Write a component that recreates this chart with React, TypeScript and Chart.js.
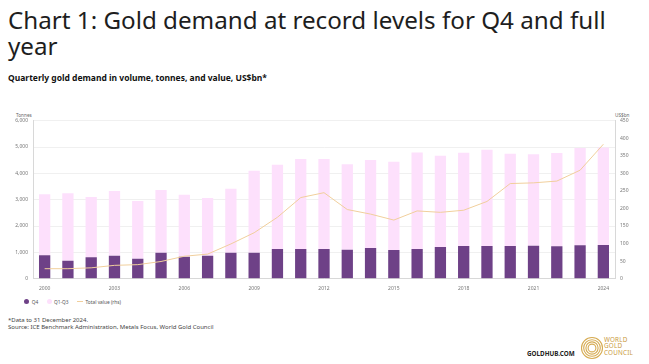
import React, { useEffect, useRef } from "react";
import { Chart, registerables } from "chart.js";

Chart.register(...registerables);

const years = [
  2000, 2001, 2002, 2003, 2004, 2005, 2006, 2007, 2008, 2009, 2010, 2011, 2012,
  2013, 2014, 2015, 2016, 2017, 2018, 2019, 2020, 2021, 2022, 2023, 2024,
];

// Q4 demand, tonnes
const q4Tonnes = [
  886, 684, 810, 873, 759, 987, 835, 873, 987, 987, 1127, 1127, 1127, 1101,
  1165, 1089, 1127, 1203, 1241, 1241, 1241, 1253, 1228, 1266, 1278,
];

// Q1-Q3 demand, tonnes
const q1q3Tonnes = [
  2317, 2557, 2291, 2456, 2190, 2380, 2355, 2190, 2431, 3114, 3202, 3417, 3417,
  3241, 3341, 3354, 3670, 3468, 3544, 3658, 3506, 3469, 3544, 3696, 3709,
];

// Total value, US$bn (rhs)
const totalValueBn = [
  28.5, 28.5, 31, 38, 40, 49, 64, 70, 99, 131, 175, 231, 245, 197, 184, 167,
  193, 189, 195, 220, 271, 273, 278, 309, 383,
];

const PURPLE = "#6e4187";
const PINK = "#fde0fc";
const GOLD_LINE = "#f1cf9c";
const GOLD = "#c99a3c";

export default function App() {
  const ref = useRef<HTMLCanvasElement>(null);

  useEffect(() => {
    Chart.defaults.font.family = '"Noto Sans", sans-serif';
    const chart = new Chart(ref.current!, {
      type: "bar",
      data: {
        labels: years.map(String),
        datasets: [
          {
            type: "line",
            label: "Total value (rhs)",
            data: totalValueBn,
            yAxisID: "y1",
            borderColor: GOLD_LINE,
            borderWidth: 1,
            pointRadius: 0,
            tension: 0,
            order: 0,
          } as any,
          {
            label: "Q4",
            data: q4Tonnes,
            backgroundColor: PURPLE,
            yAxisID: "y",
            stack: "t",
            order: 1,
            barPercentage: 0.485,
            categoryPercentage: 1,
          },
          {
            label: "Q1-Q3",
            data: q1q3Tonnes,
            backgroundColor: PINK,
            yAxisID: "y",
            stack: "t",
            order: 1,
            barPercentage: 0.485,
            categoryPercentage: 1,
          },
        ],
      },
      options: {
        responsive: false,
        animation: false,
        devicePixelRatio: 1,
        layout: { padding: { top: 20.7, left: 0, right: 0, bottom: 0 } },
        plugins: { legend: { display: false }, tooltip: { enabled: false } },
        scales: {
          x: {
            stacked: true,
            grid: { display: false, drawTicks: false },
            border: { display: true, color: "#d8d8d8" },
            ticks: {
              autoSkip: false,
              maxRotation: 0,
              padding: 6.5,
              color: "#777",
              font: { size: 5 },
              callback: (_v: any, i: number) => (i % 3 === 0 ? String(years[i]) : ""),
            },
            afterFit: (s: any) => {
              s.height = 16.3;
            },
          },
          y: {
            stacked: true,
            position: "left",
            min: 0,
            max: 6000,
            grid: { color: "#ececec", lineWidth: 0.8, drawTicks: false },
            border: { display: true, color: "#d8d8d8" },
            ticks: {
              stepSize: 1000,
              padding: 5,
              color: "#777",
              font: { size: 5 },
              callback: (v: any) => Number(v).toLocaleString("en-US"),
            },
            afterFit: (s: any) => {
              s.width = 33;
            },
          },
          y1: {
            position: "right",
            min: 0,
            max: 450,
            grid: { drawOnChartArea: false, drawTicks: false },
            border: { display: true, color: "#d8d8d8" },
            ticks: {
              stepSize: 50,
              padding: 5,
              color: "#777",
              font: { size: 5 },
            },
            afterFit: (s: any) => {
              s.width = 34;
            },
          },
        },
      },
    });
    return () => chart.destroy();
  }, []);

  const legendItem = (marker: React.ReactNode, text: string, left: number) => (
    <div
      style={{
        position: "absolute",
        left,
        top: 298.7,
        height: 6,
        display: "flex",
        alignItems: "center",
        fontSize: 4.8,
        color: "#555",
        whiteSpace: "nowrap",
      }}
    >
      {marker}
      <span style={{ marginLeft: 2.5 }}>{text}</span>
    </div>
  );

  const dot = (c: string) => (
    <span
      style={{
        display: "inline-block",
        width: 5,
        height: 5,
        borderRadius: "50%",
        background: c,
      }}
    />
  );

  return (
    <div
      style={{
        position: "absolute",
        left: 0,
        top: 0,
        width: 649,
        height: 364,
        background: "#fff",
        overflow: "hidden",
        fontFamily: '"Noto Sans", sans-serif',
        color: "#222",
      }}
    >
      <div
        style={{
          position: "absolute",
          left: 8,
          top: 7,
          fontSize: 24.2,
          lineHeight: "26px",
          whiteSpace: "nowrap",
          color: "#1e1e1e",
        }}
      >
        Chart 1: Gold demand at record levels for Q4 and full
        <br />
        year
      </div>
      <div
        style={{
          position: "absolute",
          left: 8,
          top: 73.2,
          fontSize: 8.5,
          lineHeight: "10px",
          fontWeight: 700,
          whiteSpace: "nowrap",
          color: "#111",
        }}
      >
        Quarterly gold demand in volume, tonnes, and value, US$bn*
      </div>

      <div style={{ position: "absolute", left: 16, top: 111.5, fontSize: 4.7, color: "#666" }}>
        Tonnes
      </div>
      <div style={{ position: "absolute", left: 615, top: 111.5, fontSize: 4.7, color: "#666" }}>
        US$bn
      </div>

      <canvas
        ref={ref}
        width={649}
        height={195}
        style={{ position: "absolute", left: 0, top: 100, width: 649, height: 195 }}
      />

      {legendItem(dot(PURPLE), "Q4", 24.2)}
      {legendItem(dot(PINK), "Q1-Q3", 46.5)}
      {legendItem(
        <span style={{ display: "inline-block", width: 6, height: 1, background: GOLD_LINE }} />,
        "Total value (rhs)",
        77
      )}

      <div
        style={{
          position: "absolute",
          left: 8,
          top: 317,
          fontSize: 6,
          lineHeight: "6.5px",
          color: "#444",
          whiteSpace: "nowrap",
        }}
      >
        *Data to 31 December 2024.
        <br />
        Source: ICE Benchmark Administration, Metals Focus, World Gold Council
      </div>

      <div
        style={{
          position: "absolute",
          left: 527,
          top: 349.5,
          fontSize: 6.3,
          lineHeight: "8px",
          fontWeight: 700,
          color: "#222",
          whiteSpace: "nowrap",
        }}
      >
        GOLDHUB.COM
      </div>
      <svg
        width={24}
        height={24}
        style={{ position: "absolute", left: 579.5, top: 336 }}
        viewBox="0 0 24 24"
      >
        {[10.5, 8.3, 6.1, 3.9].map((r) => (
          <circle key={r} cx={12} cy={12} r={r} fill="none" stroke="#d6ab52" strokeWidth={1.1} />
        ))}
      </svg>
      <div
        style={{
          position: "absolute",
          left: 604,
          top: 337,
          fontSize: 6.3,
          lineHeight: "6.3px",
          color: GOLD,
          letterSpacing: 0.2,
          whiteSpace: "nowrap",
        }}
      >
        WORLD
        <br />
        GOLD
        <br />
        COUNCIL
      </div>
    </div>
  );
}
